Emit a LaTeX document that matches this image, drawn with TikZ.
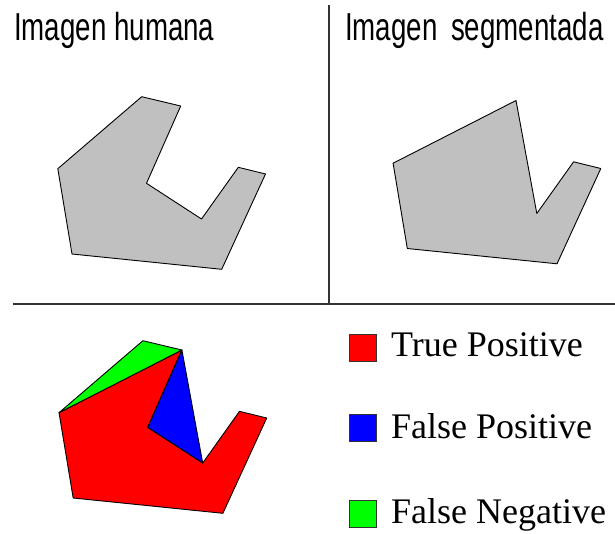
\documentclass[tikz,border=0pt]{standalone}
\usepackage{fontspec}
\setmainfont{Liberation Serif}
\newfontfamily\titlefont[FakeStretch=0.71]{Liberation Sans}
\usetikzlibrary{positioning}
\tikzset{
    x=1pt, y=-1pt,
    region_gray/.style={
        fill={rgb,255:red,192;green,192;blue,192},
        draw=black,
        line width=0.9pt,
        line join=round
    },
    region_tp/.style={
        fill={rgb,255:red,255;green,0;blue,0},
        draw=black,
        line width=0.9pt,
        line join=round
    },
    region_fp/.style={
        fill={rgb,255:red,0;green,0;blue,255},
        draw=black,
        line width=0.9pt,
        line join=round
    },
    region_fn/.style={
        fill={rgb,255:red,0;green,255;blue,0},
        draw=black,
        line width=0.9pt,
        line join=round
    },
    divider/.style={
        draw=black!80,
        line width=1.3pt
    },
    panel_title/.style={
        anchor=base west,
        inner sep=0pt,
        font=\titlefont\fontsize{39}{44}\selectfont
    },
    legend_box/.style={
        rectangle,
        draw=black!80,
        line width=0.9pt,
        minimum width=27pt,
        minimum height=27pt,
        inner sep=0pt
    },
    legend_text/.style={
        anchor=base west,
        inner sep=0pt,
        font=\fontsize{36}{42}\selectfont
    }
}
% corners of the hand-drawn outline, prefixed per panel
\newcommand{\shapepoints}[1]{
    \coordinate (#1Top) at (141.7,96.7);
    \coordinate (#1TR) at (180.7,106);
    \coordinate (#1Notch) at (146.5,183.3);
    \coordinate (#1In) at (201.5,219);
    \coordinate (#1ArmT) at (238.3,167.3);
    \coordinate (#1ArmR) at (265.5,174);
    \coordinate (#1BR) at (221.7,269.3);
    \coordinate (#1BL) at (72,254);
    \coordinate (#1L) at (57.8,168.7);
}

\begin{document}
\begin{tikzpicture}
\useasboundingbox (0,0) rectangle (615,533);

% Panel frame
\coordinate (vTop) at (329,5);
\coordinate (vBot) at (329,304);
\coordinate (hLeft) at (12.5,304);
\coordinate (hRight) at (615,304);
\draw[divider] (vTop) -- (vBot);
\draw[divider] (hLeft) -- (hRight);

% Titles
\node[panel_title] (titleHuman) at (14,40) {Imagen humana};
\node[panel_title] (titleSeg) at (345,40) {Imagen\hspace{0.15em} segmentada};

% Human reference outline
\begin{scope}
  \shapepoints{h}
\end{scope}
\draw[region_gray] (hTop) -- (hTR) -- (hNotch) -- (hIn) -- (hArmT) -- (hArmR)
  -- (hBR) -- (hBL) -- (hL) -- cycle;

% Segmented outline
\begin{scope}[shift={(335.3,-5.5)}]
  \shapepoints{s}
\end{scope}
\draw[region_gray] (sL) -- (sTR) -- (sIn) -- (sArmT) -- (sArmR) -- (sBR)
  -- (sBL) -- cycle;

% Comparison
\begin{scope}[shift={(1.2,244)}]
  \shapepoints{c}
\end{scope}
\draw[region_tp] (cL) -- (cTR) -- (cNotch) -- (cIn) -- (cArmT) -- (cArmR)
  -- (cBR) -- (cBL) -- cycle;
\draw[region_fn] (cL) -- (cTop) -- (cTR) -- cycle;
\draw[region_fp] (cTR) -- (cNotch) -- (cIn) -- cycle;

% Legend
\node[legend_box, fill={rgb,255:red,255;green,0;blue,0}] (keyTP) at (362.5,347.5) {};
\node[legend_box, fill={rgb,255:red,0;green,0;blue,255}] (keyFP) at (362.5,427.5) {};
\node[legend_box, fill={rgb,255:red,0;green,255;blue,0}] (keyFN) at (362.5,513.5) {};
\node[legend_text] (labTP) at (391,356) {True Positive};
\node[legend_text] (labFP) at (391,438.5) {False Positive};
\node[legend_text] (labFN) at (391,523) {False Negative};

\end{tikzpicture}
\end{document}
